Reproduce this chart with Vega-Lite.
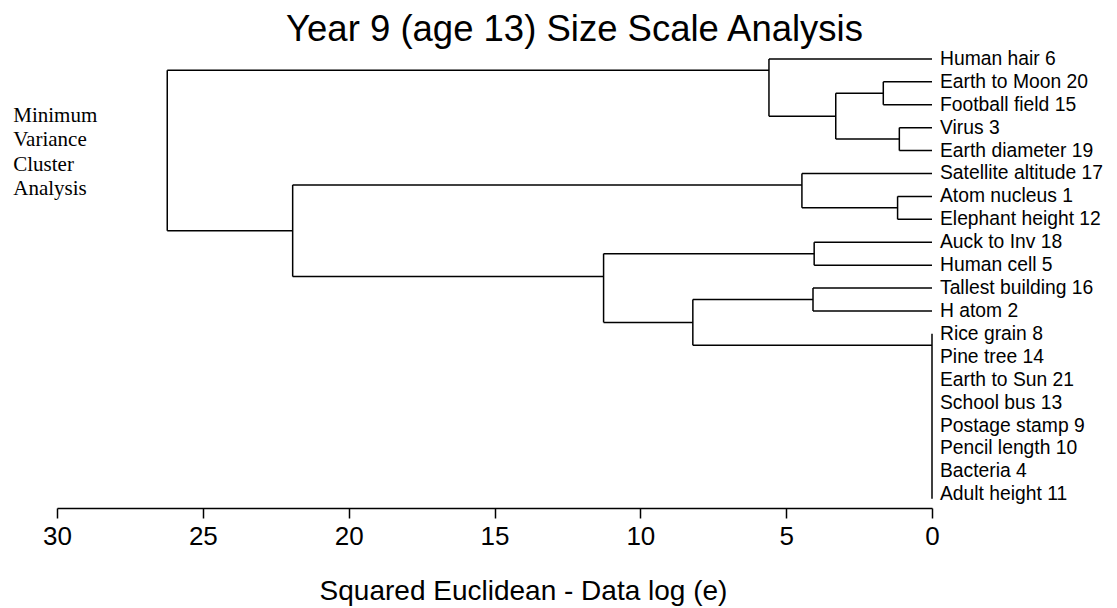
{
  "$schema": "https://vega.github.io/schema/vega-lite/v6.json",
  "width": 875,
  "height": 472,
  "autosize": "none",
  "padding": {"left": 57, "top": 36, "right": 185, "bottom": 100},
  "background": "white",
  "config": {"view": {"stroke": null}, "font": "Liberation Sans"},
  "title": {
    "text": "Year 9 (age 13) Size Scale Analysis",
    "fontSize": 36.5,
    "fontWeight": "normal",
    "font": "Liberation Sans",
    "color": "black",
    "frame": "group",
    "anchor": "middle",
    "dx": 80,
    "dy": 39,
    "baseline": "alphabetic",
    "offset": -2
  },
  "datasets": {
    "segments": [
      {"x1": 0, "x2": 5.59, "y1": 0, "y2": 0},
      {"x1": 0, "x2": 1.67, "y1": 1, "y2": 1},
      {"x1": 0, "x2": 1.67, "y1": 2, "y2": 2},
      {"x1": 0, "x2": 1.12, "y1": 3, "y2": 3},
      {"x1": 0, "x2": 1.12, "y1": 4, "y2": 4},
      {"x1": 0, "x2": 4.46, "y1": 5, "y2": 5},
      {"x1": 0, "x2": 1.18, "y1": 6, "y2": 6},
      {"x1": 0, "x2": 1.18, "y1": 7, "y2": 7},
      {"x1": 0, "x2": 4.04, "y1": 8, "y2": 8},
      {"x1": 0, "x2": 4.04, "y1": 9, "y2": 9},
      {"x1": 0, "x2": 4.08, "y1": 10, "y2": 10},
      {"x1": 0, "x2": 4.08, "y1": 11, "y2": 11},
      {"x1": 1.67, "x2": 3.30, "y1": 1.5, "y2": 1.5},
      {"x1": 1.12, "x2": 3.30, "y1": 3.5, "y2": 3.5},
      {"x1": 3.30, "x2": 5.59, "y1": 2.5, "y2": 2.5},
      {"x1": 5.59, "x2": 26.22, "y1": 0.5, "y2": 0.5},
      {"x1": 1.18, "x2": 4.46, "y1": 6.5, "y2": 6.5},
      {"x1": 4.46, "x2": 21.92, "y1": 5.5, "y2": 5.5},
      {"x1": 4.04, "x2": 11.26, "y1": 8.5, "y2": 8.5},
      {"x1": 4.08, "x2": 8.20, "y1": 10.5, "y2": 10.5},
      {"x1": 0, "x2": 8.20, "y1": 12.5, "y2": 12.5},
      {"x1": 8.20, "x2": 11.26, "y1": 11.5, "y2": 11.5},
      {"x1": 11.26, "x2": 21.92, "y1": 9.5, "y2": 9.5},
      {"x1": 21.92, "x2": 26.22, "y1": 7.5, "y2": 7.5},
      {"x1": 1.67, "x2": 1.67, "y1": 1, "y2": 2},
      {"x1": 1.12, "x2": 1.12, "y1": 3, "y2": 4},
      {"x1": 3.30, "x2": 3.30, "y1": 1.5, "y2": 3.5},
      {"x1": 5.59, "x2": 5.59, "y1": 0, "y2": 2.5},
      {"x1": 1.18, "x2": 1.18, "y1": 6, "y2": 7},
      {"x1": 4.46, "x2": 4.46, "y1": 5, "y2": 6.5},
      {"x1": 4.04, "x2": 4.04, "y1": 8, "y2": 9},
      {"x1": 4.08, "x2": 4.08, "y1": 10, "y2": 11},
      {"x1": 0, "x2": 0, "y1": 12, "y2": 19.2},
      {"x1": 8.20, "x2": 8.20, "y1": 10.5, "y2": 12.5},
      {"x1": 11.26, "x2": 11.26, "y1": 8.5, "y2": 11.5},
      {"x1": 21.92, "x2": 21.92, "y1": 5.5, "y2": 9.5},
      {"x1": 26.22, "x2": 26.22, "y1": 0.5, "y2": 7.5}
    ],
    "leaves": [
      {"label": "Human hair 6", "pos": 0},
      {"label": "Earth to Moon 20", "pos": 1},
      {"label": "Football field 15", "pos": 2},
      {"label": "Virus 3", "pos": 3},
      {"label": "Earth diameter 19", "pos": 4},
      {"label": "Satellite altitude 17", "pos": 5},
      {"label": "Atom nucleus 1", "pos": 6},
      {"label": "Elephant height 12", "pos": 7},
      {"label": "Auck to Inv 18", "pos": 8},
      {"label": "Human cell 5", "pos": 9},
      {"label": "Tallest building 16", "pos": 10},
      {"label": "H atom 2", "pos": 11},
      {"label": "Rice grain 8", "pos": 12},
      {"label": "Pine tree 14", "pos": 13},
      {"label": "Earth to Sun 21", "pos": 14},
      {"label": "School bus 13", "pos": 15},
      {"label": "Postage stamp 9", "pos": 16},
      {"label": "Pencil length 10", "pos": 17},
      {"label": "Bacteria 4", "pos": 18},
      {"label": "Adult height 11", "pos": 19}
    ]
  },
  "layer": [
    {
      "data": {"name": "segments"},
      "mark": {"type": "rule", "color": "black", "strokeWidth": 1.5},
      "encoding": {
        "x": {
          "field": "x1",
          "type": "quantitative",
          "scale": {"domain": [0, 30], "reverse": true, "nice": false, "zero": false},
          "axis": {
            "orient": "bottom",
            "values": [0, 5, 10, 15, 20, 25, 30],
            "grid": false,
            "domainColor": "black",
            "domainWidth": 1.5,
            "tickColor": "black",
            "tickWidth": 1.5,
            "tickSize": 10,
            "labelFontSize": 26,
            "labelColor": "black",
            "labelFont": "Liberation Sans",
            "labelPadding": 5,
            "labelFlush": false,
            "title": "Squared Euclidean - Data log (e)",
            "titleFontSize": 28,
            "titleFontWeight": "normal",
            "titleFont": "Liberation Sans",
            "titleColor": "black",
            "titlePadding": 28,
            "titleX": 466,
            "titleAnchor": "middle"
          }
        },
        "x2": {"field": "x2"},
        "y": {
          "field": "y1",
          "type": "quantitative",
          "scale": {"domain": [-1, 19.6], "reverse": true, "nice": false, "zero": false},
          "axis": null
        },
        "y2": {"field": "y2"}
      }
    },
    {
      "data": {"name": "leaves"},
      "mark": {"type": "text", "align": "left", "baseline": "middle", "dx": 8, "fontSize": 19.3, "font": "Liberation Sans", "color": "black"},
      "encoding": {
        "x": {"datum": 0, "type": "quantitative"},
        "y": {"field": "pos", "type": "quantitative"},
        "text": {"field": "label"}
      }
    },
    {
      "data": {"values": [{}]},
      "mark": {"type": "text", "align": "left", "baseline": "top", "fontSize": 21, "font": "Liberation Serif", "color": "black", "lineHeight": 24.5},
      "encoding": {
        "x": {"datum": 31.5, "type": "quantitative"},
        "y": {"datum": 2.0, "type": "quantitative"},
        "text": {"value": ["Minimum", "Variance", "Cluster", "Analysis"]}
      }
    }
  ]
}
